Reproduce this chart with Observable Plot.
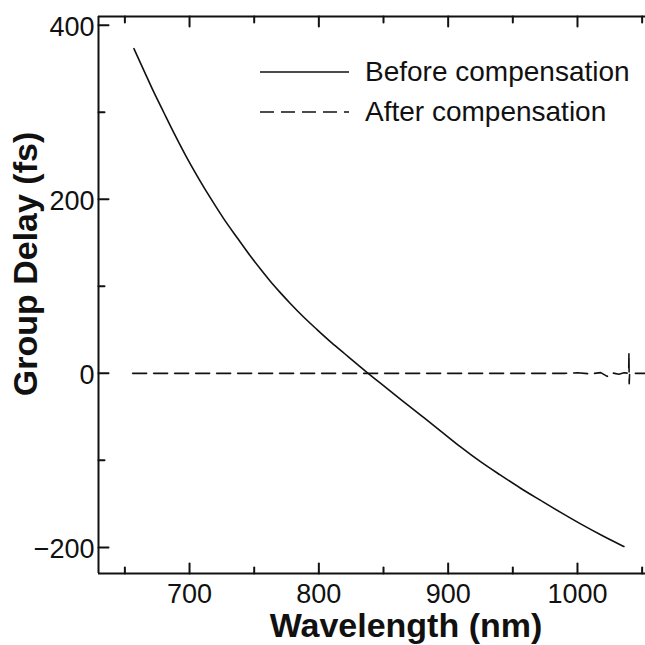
<!DOCTYPE html>
<html>
<head>
<meta charset="utf-8">
<script src="https://cdn.jsdelivr.net/npm/d3@7"></script>
<script src="https://cdn.jsdelivr.net/npm/@observablehq/plot@0.6"></script>
<style>
  html, body { margin: 0; padding: 0; background: #fff; }
  #chart { position: relative; width: 645px; height: 645px; }
</style>
</head>
<body>
<div id="chart"></div>
<script>
// ---- data ----
const seriesNames = ["Before compensation", "After compensation"];
const xTitle = "Wavelength (nm)";
const yTitle = "Group Delay (fs)";

const wavelengthBefore = [657, 665, 672.4, 680, 688, 698.2, 708, 717, 726.5, 737, 747.2, 755, 762.6, 770, 778.1, 788, 798.8, 810, 820, 830, 837.4, 850, 863.2, 878.7, 894, 909.6, 925, 940.5, 956, 971.5, 987, 1002.4, 1019, 1035.9];
const delayBefore      = [373, 347, 323, 300, 276, 247, 221.5, 199.5, 177.5, 155.5, 134.5, 119.5, 105.5, 93, 80, 65, 50, 35, 22.5, 10, 0.8, -14.2, -29.8, -48, -66, -84.5, -101.5, -117, -132, -146, -159.8, -173, -186.3, -199];

const wavelengthAfter = [656, 750, 850, 950, 990, 1000, 1010, 1018, 1023, 1027, 1032, 1036, 1039.6, 1039.8, 1040.0, 1040.3, 1043, 1052];
const delayAfter      = [0, 0, 0, 0, 0, 0.6, -0.6, 0.8, -3.5, 0.5, -1, 0.6, 0, 24, -12, 0, 0, 0];

const xDomain = [629.6, 1052.6];
const yDomain = [-230, 410];
const xMajor = [700, 800, 900, 1000];
const xMinor = [650, 750, 850, 950, 1050];
const yMajor = [-200, 0, 200, 400];
const yMinor = [-100, 100, 300];

const before = wavelengthBefore.map((w, i) => ({w, d: delayBefore[i]}));
const after = wavelengthAfter.map((w, i) => ({w, d: delayAfter[i]}));

const FONT = "'Liberation Sans', Arial, Helvetica, sans-serif";
const INK = "#111";
const DASH = "14,7";
const fmt = (d) => (d < 0 ? "\u2212" + Math.abs(d) : String(d));

// a straight tick drawn from its anchor point (used by vector marks)
const tickShape = {draw(context, l) { context.moveTo(0, 0); context.lineTo(0, -l); }};
const ticks = (values, channel, frameAnchor, rotate, length) =>
  Plot.vector(values, {
    [channel]: (d) => d, frameAnchor, rotate, length, anchor: "start",
    shape: tickShape, stroke: INK, strokeWidth: 2
  });

const chart = Plot.plot({
  width: 645,
  height: 645,
  marginLeft: 98,
  marginRight: 0,
  marginTop: 16,
  marginBottom: 72,
  style: {fontFamily: FONT, fontSize: "27px", color: INK, background: "#fff", overflow: "visible"},
  x: {domain: xDomain},
  y: {domain: yDomain},
  marks: [
    // frame lines (left, bottom, top)
    Plot.ruleX([xDomain[0]], {stroke: INK, strokeWidth: 2}),
    Plot.ruleY([yDomain[0]], {stroke: INK, strokeWidth: 2}),
    Plot.ruleY([yDomain[1]], {stroke: INK, strokeWidth: 2}),
    // inward ticks
    ticks(yMajor, "y", "left", 90, 10),
    ticks(yMinor, "y", "left", 90, 6),
    ticks(xMajor, "x", "bottom", 0, 10),
    ticks(xMinor, "x", "bottom", 0, 6),
    ticks(xMajor, "x", "top", 180, 10),
    ticks(xMinor, "x", "top", 180, 6),
    // tick labels
    Plot.axisY({ticks: yMajor, tickSize: 0, tickPadding: 4, label: null, fontSize: 27, dy: 2, tickFormat: fmt}),
    Plot.axisX({ticks: xMajor, tickSize: 0, tickPadding: 10, label: null, fontSize: 27, tickFormat: fmt}),
    // data
    Plot.line(after, {x: "w", y: "d", stroke: INK, strokeWidth: 1.6, strokeDasharray: DASH}),
    Plot.line(before, {x: "w", y: "d", stroke: INK, strokeWidth: 1.6, curve: "monotone-x"})
  ]
});

document.getElementById("chart").appendChild(chart);

// axis titles and legend
const svg = d3.select(chart);
svg.append("text")
  .attr("x", 406).attr("y", 637)
  .attr("text-anchor", "middle")
  .attr("font-family", FONT).attr("font-weight", "bold").attr("font-size", 34)
  .attr("fill", INK)
  .text(xTitle);
svg.append("text")
  .attr("transform", "translate(37,264) rotate(-90)")
  .attr("text-anchor", "middle")
  .attr("font-family", FONT).attr("font-weight", "bold").attr("font-size", 34)
  .attr("fill", INK)
  .text(yTitle);

const legend = svg.append("g").attr("transform", "translate(260,72)");
seriesNames.forEach((name, i) => {
  const g = legend.append("g").attr("transform", `translate(0,${i * 40})`);
  g.append("line")
    .attr("x1", 0).attr("x2", 89).attr("y1", 0).attr("y2", 0)
    .attr("stroke", INK).attr("stroke-width", 1.6)
    .attr("stroke-dasharray", i === 0 ? null : DASH);
  g.append("text")
    .attr("x", 105).attr("y", 9)
    .attr("text-anchor", "start")
    .attr("font-family", FONT).attr("font-size", 28)
    .attr("fill", INK)
    .text(name);
});
</script>
</body>
</html>
